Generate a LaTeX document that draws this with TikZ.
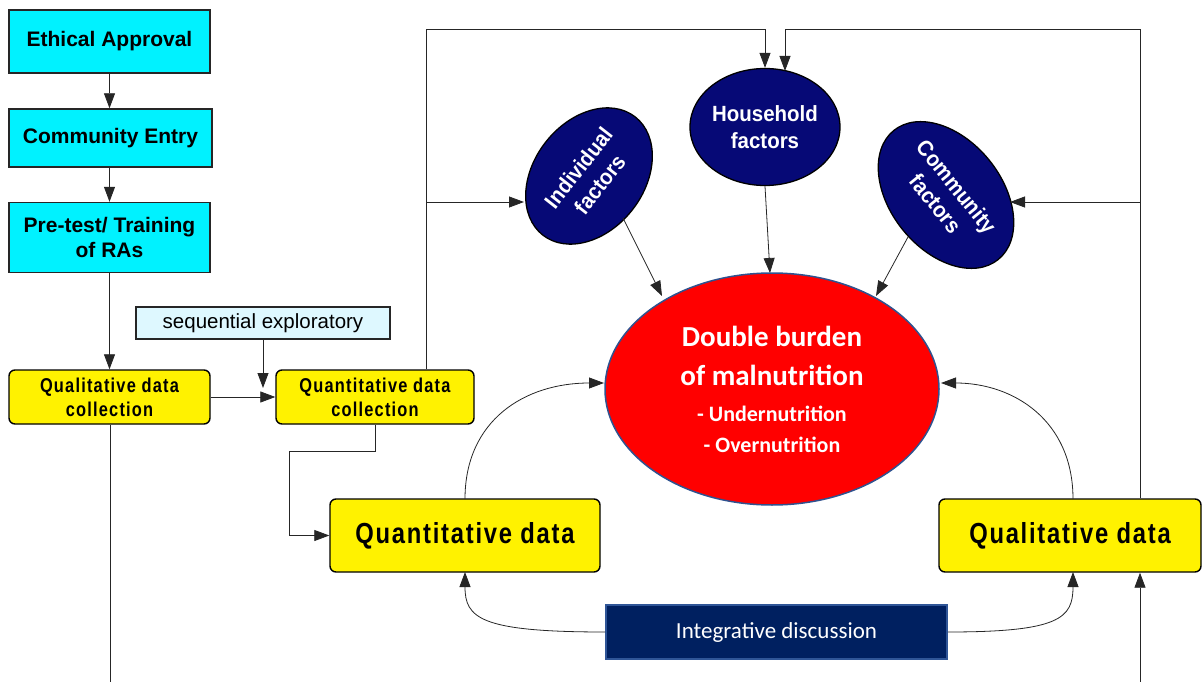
\documentclass[tikz,border=0pt]{standalone}
\usepackage{fontspec}
\setmainfont{Liberation Sans}
\newfontfamily\yfont[FakeStretch=0.82,LetterSpace=6]{Liberation Sans}
\newfontfamily\hfont[FakeStretch=0.93]{Liberation Sans}
\newfontfamily\carl{Carlito}
\usetikzlibrary{arrows.meta,shapes.geometric}
\definecolor{cyanfill}{RGB}{0,242,255}
\definecolor{seqfill}{RGB}{222,248,255}
\definecolor{navyfill}{RGB}{6,9,118}
\definecolor{redfill}{RGB}{255,0,0}
\definecolor{redline}{RGB}{47,82,143}
\definecolor{intfill}{RGB}{0,32,96}
\definecolor{intline}{RGB}{47,85,151}
\begin{document}
\begin{tikzpicture}[x=1pt,y=-1pt,
  >={Triangle[length=15pt,width=11pt]},
  conn/.style={draw=black!85, line width=0.8pt},
  cbox/.style={draw=black!85, line width=1.4pt, fill=cyanfill, inner sep=0pt, align=center,
    font=\bfseries\fontsize{21}{25}\selectfont},
  ybox/.style={draw=black, line width=1.4pt, fill=yellow, rounded corners=6pt, inner sep=0pt, align=center},
  ysmall/.style={ybox, font=\yfont\bfseries\fontsize{20}{24}\selectfont},
  ybig/.style={ybox, font=\yfont\bfseries\fontsize{29}{34}\selectfont},
  fac/.style={ellipse, draw=black, line width=1.3pt, fill=navyfill, text=white, inner sep=0pt, align=center,
    font=\hfont\bfseries\fontsize{22}{27}\selectfont}
]
\useasboundingbox (0,0) rectangle (1203,682);

% left column
\node[cbox, minimum width=201, minimum height=63] (eth) at (109.5,41.5) {Ethical Approval};
\node[cbox, minimum width=203, minimum height=58] (comm) at (110.5,138) {Community Entry};
\node[cbox, minimum width=201, minimum height=70] (pre) at (109.5,237.5) {Pre-test/ Training\\of RAs};
\node[ysmall, minimum width=201, minimum height=54] (qcoll) at (109.5,397) {Qualitative data\\collection};
\node[ysmall, minimum width=198, minimum height=54] (ncoll) at (375,397) {Quantitative data\\collection};
\node[draw=black!85, line width=1.4pt, fill=seqfill, inner sep=0pt, minimum width=254, minimum height=32,
  font=\fontsize{20.5}{24}\selectfont] (seq) at (263,323) {sequential exploratory};

% data boxes
\node[ybig, minimum width=270, minimum height=73] (ndata) at (465,535.5) {Quantitative data};
\node[ybig, minimum width=262, minimum height=73] (ldata) at (1070,535.5) {Qualitative data};
\node[draw=intline, line width=1.5pt, fill=intfill, text=white, inner sep=0pt, minimum width=341, minimum height=54,
  font=\carl\fontsize{23}{28}\selectfont] (integ) at (776.5,632) {Integrative discussion};

% factors
\node[fac, minimum width=150, minimum height=117] (hh) at (765,127) {Household\\factors};
\node[fac, minimum width=150, minimum height=110, rotate=52] (ind) at (589,176) {Individual\\factors};
\node[fac, minimum width=166, minimum height=111, rotate=-51] (cfac) at (946,195) {Community\\factors};

% central ellipse
\node[ellipse, draw=redline, line width=1.5pt, fill=redfill, text=white, inner sep=0pt,
  minimum width=334, minimum height=232, align=center,
  font=\carl\bfseries\fontsize{29}{39}\selectfont] (red) at (772,389)
  {Double burden\\
   of malnutrition\\[-3pt]
   {\fontsize{22}{31}\selectfont - Undernutrition}\\[-8pt]
   {\fontsize{22}{31}\selectfont - Overnutrition}};

% left column connectors
\draw[conn,->] (eth.south) -- (eth.south |- comm.north);
\draw[conn,->] (comm.south -| eth.south) -- (eth.south |- pre.north);
\draw[conn,->] (pre.south -| eth.south) -- (eth.south |- qcoll.north);
\coordinate (botL) at (110,682);
\draw[conn] (qcoll.south -| botL) -- (botL);
\draw[conn,->] (qcoll.east) -- (ncoll.west);
\coordinate (seqend) at (263,388);
\draw[conn,->] (seq.south) -- (seqend);
\draw[conn,->] (ncoll.south) |- (289,451) |- (ndata.west);

% top loops
\coordinate (topL) at (426,29);
\draw[conn,->] (ncoll.north -| topL) -- (topL) -- (topL -| hh.north) -- (hh.north);
\coordinate (indT) at (524,202);
\draw[conn,->] (topL |- indT) -- (indT);
\coordinate (topR) at (1140,29);
\coordinate (hhR) at (785,71);
\draw[conn,->] (ldata.north -| topR) -- (topR) -- (topR -| hhR) -- (hhR);
\coordinate (comT) at (1010,202);
\draw[conn,->] (topR |- comT) -- (comT);
\coordinate (botR) at (1140,682);
\draw[conn,->] (botR) -- (botR |- ldata.south);

% factor arrows
\coordinate (indA) at (623,218);
\coordinate (redA) at (662,296);
\draw[conn,->] (indA) -- (redA);
\coordinate (redB) at (770,273);
\draw[conn,->] (hh.south) -- (redB);
\coordinate (comA) at (908,237);
\coordinate (redC) at (876,296);
\draw[conn,->] (comA) -- (redC);

% curves to central ellipse
\coordinate (nTop) at (465,499);
\coordinate (redW) at (604,383);
\draw[conn,->] (nTop) .. controls (465,420) and (525,383) .. (redW);
\coordinate (lTop) at (1073,499);
\coordinate (redE) at (941,383);
\draw[conn,->] (lTop) .. controls (1073,420) and (1013,383) .. (redE);

% integrative discussion curves
\coordinate (nBot) at (465,572);
\draw[conn,->] (integ.west) .. controls (480,632) and (465,618) .. (nBot);
\coordinate (lBot) at (1073,572);
\draw[conn,->] (integ.east) .. controls (1060,632) and (1073,618) .. (lBot);
\end{tikzpicture}
\end{document}
